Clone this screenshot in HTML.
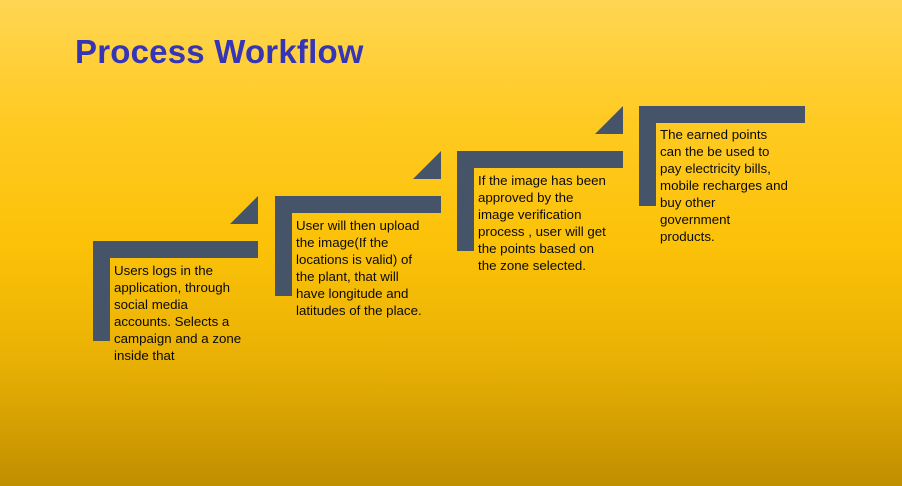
<!DOCTYPE html>
<html><head><style>
html,body{margin:0;padding:0}
body{width:902px;height:486px;position:relative;overflow:hidden;
background:linear-gradient(to bottom,#ffd653 0%,#ffca22 25%,#fcc208 50%,#e8b004 75%,#c08f00 100%);
font-family:"Liberation Sans",sans-serif}
.t{position:absolute;left:75px;top:33px;font-size:33px;font-weight:bold;color:#3535b5;letter-spacing:0.2px}
.b{position:absolute;background:#46546a}
.tri{position:absolute;width:0;height:0;border-left:28px solid transparent;border-bottom:28px solid #46546a}
.x{position:absolute;font-size:13.3px;line-height:17px;color:#0a0a0a;width:160px}
</style></head><body>
<div class="t">Process Workflow</div>

<div class="b" style="left:93px;top:241px;width:165px;height:17px"></div>
<div class="b" style="left:93px;top:241px;width:17px;height:100px"></div>
<div class="tri" style="left:230px;top:196px"></div>

<div class="b" style="left:275px;top:196px;width:166px;height:17px"></div>
<div class="b" style="left:275px;top:196px;width:17px;height:100px"></div>
<div class="tri" style="left:413px;top:151px"></div>

<div class="b" style="left:457px;top:151px;width:166px;height:17px"></div>
<div class="b" style="left:457px;top:151px;width:17px;height:100px"></div>
<div class="tri" style="left:595px;top:106px"></div>

<div class="b" style="left:639px;top:106px;width:166px;height:17px"></div>
<div class="b" style="left:639px;top:106px;width:17px;height:100px"></div>

<div class="x" style="left:114px;top:262px">Users logs in the<br>application, through<br>social media<br>accounts. Selects a<br>campaign and a zone<br>inside that</div>
<div class="x" style="left:296px;top:217px">User will then upload<br>the image(If the<br>locations is valid) of<br>the plant, that will<br>have longitude and<br>latitudes of the place.</div>
<div class="x" style="left:478px;top:172px">If the image has been<br>approved by the<br>image verification<br>process , user will get<br>the points based on<br>the zone selected.</div>
<div class="x" style="left:660px;top:126px">The earned points<br>can the be used to<br>pay electricity bills,<br>mobile recharges and<br>buy other<br>government<br>products.</div>
</body></html>
